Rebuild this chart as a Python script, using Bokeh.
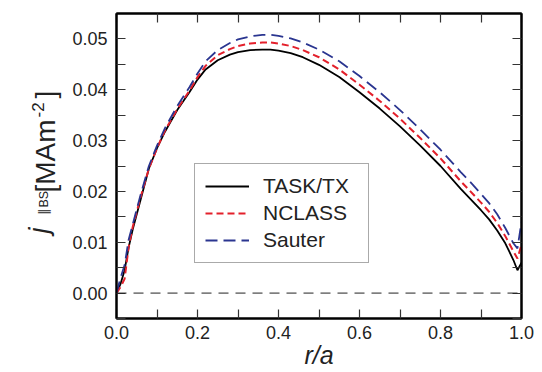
import math
from bokeh.plotting import figure
from bokeh.layouts import row
from bokeh.models import (Range1d, FixedTicker, LinearAxis, Legend, LegendItem,
                          Span, PrintfTickFormatter, CustomJSTickFormatter)
from bokeh.core.properties import value
from bokeh.embed import file_html
from bokeh.resources import INLINE

# ---- data ----
r_over_a = [0.0, 0.01, 0.02, 0.03, 0.04, 0.05, 0.06, 0.08, 0.10, 0.12, 0.15, 0.18, 0.20,
            0.22, 0.25, 0.28, 0.30, 0.33, 0.36, 0.38, 0.40, 0.43, 0.46, 0.50, 0.55, 0.60,
            0.65, 0.70, 0.75, 0.80, 0.85, 0.88, 0.90, 0.92, 0.94, 0.96, 0.98, 0.99, 1.0]
task_tx = [0.0, 0.0018, 0.0045, 0.0090, 0.0125, 0.0155, 0.0185, 0.0245, 0.0285, 0.0318,
           0.0360, 0.0395, 0.0420, 0.0440, 0.0458, 0.0469, 0.0474, 0.0478, 0.0479, 0.0479,
           0.0477, 0.0472, 0.0464, 0.0449, 0.0425, 0.0395, 0.0363, 0.0328, 0.0290, 0.0250,
           0.0205, 0.0180, 0.0163, 0.0145, 0.0123, 0.0098, 0.0065, 0.0045, 0.0060]
nclass = [0.0, 0.0012, 0.0028, 0.0090, 0.0130, 0.0160, 0.0190, 0.0245, 0.0285, 0.0320,
          0.0362, 0.0398, 0.0425, 0.0447, 0.0468, 0.0480, 0.0486, 0.0491, 0.0493, 0.0493,
          0.0491, 0.0486, 0.0478, 0.0464, 0.0440, 0.0410, 0.0378, 0.0343, 0.0305, 0.0265,
          0.0220, 0.0195, 0.0178, 0.0160, 0.0138, 0.0112, 0.0082, 0.0068, 0.0095]
sauter = [0.0, 0.0030, 0.0055, 0.0105, 0.0135, 0.0165, 0.0195, 0.0250, 0.0290, 0.0325,
          0.0368, 0.0405, 0.0432, 0.0456, 0.0478, 0.0492, 0.0499, 0.0505, 0.0508, 0.0508,
          0.0506, 0.0501, 0.0493, 0.0479, 0.0456, 0.0427, 0.0395, 0.0360, 0.0322, 0.0282,
          0.0238, 0.0213, 0.0195, 0.0177, 0.0155, 0.0128, 0.0098, 0.0088, 0.0140]
series_names = ["TASK/TX", "NCLASS", "Sauter"]

x_major = [0.0, 0.2, 0.4, 0.6, 0.8, 1.0]
x_minor = [0.1, 0.3, 0.5, 0.7, 0.9]
y_major = [0.0, 0.01, 0.02, 0.03, 0.04, 0.05]
y_minor = [-0.005, 0.005, 0.015, 0.025, 0.035, 0.045]

FONT = "Liberation Sans"
TXT = "#222222"
XMIN, XMAX, YMIN, YMAX = 0.0, 1.0, -0.005, 0.055
LAB_W, H = 64, 372
B_TOP, B_BOT = 13, 54          # border sizes of the main plot (frame aligned in the row)

# ---- y-axis title panel (its own small figure; its frame is aligned with the main frame,
#      so its data coordinates are set up to equal page pixels measured from the bottom) ----
lab = figure(width=LAB_W, height=H, x_range=Range1d(0, LAB_W),
             y_range=Range1d(B_BOT, H - B_TOP),
             output_backend="svg", toolbar_location=None, x_axis_location=None,
             y_axis_location=None, min_border=0, outline_line_color=None)
lab.grid.visible = False
ang = math.pi / 2
# (text, distance from top, distance from left, size, style)
parts = [("j", 233, 38, "27px", "italic"),
         ("\u2225BS", 214, 43, "12.5px", "normal"),
         ("[MAm", 192, 45, "28px", "normal"),
         ("-2", 117, 37, "17px", "normal"),
         ("]", 98, 45, "28px", "normal")]
for txt, py, px, fs, st in parts:
    lab.text(x=[px], y=[H - py], text=[txt], angle=ang, text_align="left",
             text_baseline="alphabetic", text_font=value(FONT), text_font_size=value(fs),
             text_font_style=st, text_color=TXT)

# ---- main plot ----
p = figure(width=542 - LAB_W, height=H, x_range=Range1d(XMIN, XMAX), y_range=Range1d(YMIN, YMAX),
           output_backend="svg", toolbar_location=None,
           min_border_left=116 - LAB_W, min_border_right=21, min_border_top=B_TOP,
           min_border_bottom=B_BOT)
p.grid.visible = False
p.outline_line_color = "black"
p.outline_line_width = 2

xt = FixedTicker(ticks=x_major, minor_ticks=x_minor)
yt = FixedTicker(ticks=y_major, minor_ticks=y_minor)

bottom = p.below[0]
left = p.left[0]
top = LinearAxis(ticker=xt)
right = LinearAxis(ticker=yt)
p.add_layout(top, "above")
p.add_layout(right, "right")

def style(ax, show_labels):
    ax.major_tick_in = 9
    ax.major_tick_out = 0
    ax.minor_tick_in = 9
    ax.minor_tick_out = 0
    ax.major_tick_line_width = 1.2
    ax.minor_tick_line_width = 1.2
    ax.major_tick_line_color = "#333333"
    ax.minor_tick_line_color = "#333333"
    ax.axis_line_width = 2
    ax.axis_line_color = "black"
    if show_labels:
        ax.major_label_text_font = FONT
        ax.major_label_text_font_size = "18px"
        ax.major_label_text_color = TXT
    else:
        ax.formatter = CustomJSTickFormatter(code="return ''")
        ax.major_label_standoff = 0

bottom.ticker = xt
left.ticker = yt
bottom.formatter = PrintfTickFormatter(format="%.1f")
left.formatter = PrintfTickFormatter(format="%.2f")
style(bottom, True)
style(left, True)
style(top, False)
style(right, False)
bottom.major_label_standoff = 7
left.major_label_standoff = 9
bottom.axis_label = "r/a"
bottom.axis_label_text_font = FONT
bottom.axis_label_text_font_size = "25px"
bottom.axis_label_text_font_style = "italic"
bottom.axis_label_text_color = TXT
bottom.axis_label_standoff = -1

zero = Span(location=0, dimension="width", line_color="#222222", line_width=1, line_dash="10 7")
p.add_layout(zero)

l1 = p.line(r_over_a, task_tx, line_color="black", line_width=1.8)
l2 = p.line(r_over_a, nclass, line_color="#e3202b", line_width=2, line_dash="7 4")
l3 = p.line(r_over_a, sauter, line_color="#2a3590", line_width=1.8, line_dash="12 6")

legend = Legend(items=[LegendItem(label=series_names[0], renderers=[l1]),
                       LegendItem(label=series_names[1], renderers=[l2]),
                       LegendItem(label=series_names[2], renderers=[l3])],
                location=(78, 55), glyph_width=44, glyph_height=20, label_standoff=14,
                label_width=95, label_height=22, spacing=3, padding=10, margin=0,
                label_text_font=FONT, label_text_font_size="21px", label_text_color=TXT,
                border_line_color="#555555", border_line_width=1,
                background_fill_color="white", background_fill_alpha=1)
p.add_layout(legend)

layout = row(lab, p)
open("out.html", "w").write(file_html(layout, INLINE))
